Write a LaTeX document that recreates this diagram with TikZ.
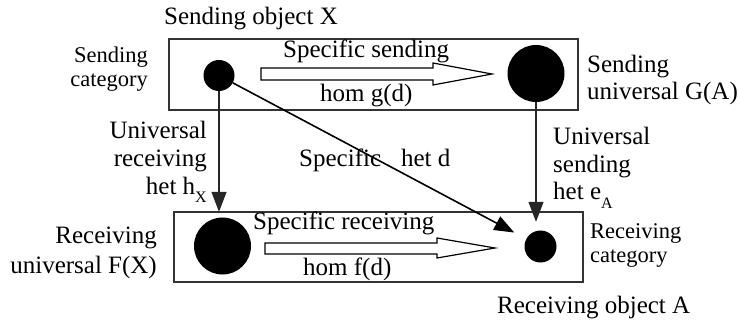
\documentclass[tikz,border=0pt]{standalone}
\usepackage{fontspec}
\setmainfont{Liberation Serif}
\usetikzlibrary{arrows.meta}
\begin{document}
\begin{tikzpicture}[x=1pt,y=-1pt,
  lbl/.style={font=\fontsize{25}{28}\selectfont, inner sep=0pt},
  sml/.style={font=\fontsize{22.5}{24}\selectfont, inner sep=0pt},
  catbox/.style={draw=black!80, line width=1.6pt, inner sep=0pt, anchor=north west, minimum width=409pt},
  dot/.style={circle, fill=black, inner sep=0pt, minimum size=#1},
  het/.style={draw=black!85, line width=1.3pt, -{Triangle[length=20pt,width=15pt]}},
  homarrow/.style={draw=black, line width=1.2pt, fill=white, line join=miter}
]
\useasboundingbox (0,0) rectangle (739,323);
% category boxes
\node[catbox, minimum height=71pt] (sendcat) at (168,38) {};
\node[catbox, minimum height=70pt] (recvcat) at (173,211) {};
% objects
\node[dot=31pt] (tl) at (219,75.5) {};
\node[dot=57pt] (tr) at (536,73.5) {};
\node[dot=57pt] (bl) at (222.5,246) {};
\node[dot=32pt] (br) at (540.5,246.5) {};
% het arrows
\draw[het, shorten >=5.5pt] (tl.south) -- (tl.south |- bl.north);
\draw[het, shorten >=8.5pt] (tr.south) -- (tr.south |- br.north);
\draw[het, draw=black, line width=1.6pt, shorten >=13.5pt] (tl) -- (br);
% hom arrows
\draw[homarrow] (261,68) -- (433,68) -- (433,63) -- (492,74) -- (433,85) -- (433,80) -- (261,80) -- cycle;
\draw[homarrow] (265,243) -- (437,243) -- (437,238) -- (495,248) -- (437,258) -- (437,254) -- (265,254) -- cycle;
% labels (base anchor = baseline of the last line)
\node[lbl, anchor=base west] (sx) at (164,25) {Sending object X};
\node[sml, anchor=base east, align=right] (sc) at (148,87) {Sending\\category};
\node[lbl, anchor=base west] (ss) at (283,58) {Specific sending};
\node[lbl, anchor=base west] (hg) at (320,102) {hom g(d)};
\node[lbl, anchor=base west, align=left, font=\fontsize{25}{27}\selectfont] (su) at (587,100) {Sending\\universal G(A)};
\node[lbl, anchor=base east, align=right] (urh) at (207,195) {Universal\\receiving\\het h\raisebox{-8pt}{\fontsize{16}{16}\selectfont X}};
\node[lbl, anchor=base west] (shd) at (299,167) {Specific\hspace{20pt}het d};
\node[lbl, anchor=base west, align=left, font=\fontsize{25}{27.5}\selectfont] (use) at (553,200) {Universal\\sending\\het e\raisebox{-9pt}{\fontsize{16}{16}\selectfont A}};
\node[lbl, anchor=base east, align=right, font=\fontsize{25}{30}\selectfont] (ru) at (157,273) {Receiving\\universal F(X)};
\node[lbl, anchor=base west] (sr) at (253,230) {Specific receiving};
\node[lbl, anchor=base west] (hf) at (303,275) {hom f(d)};
\node[sml, anchor=base west, align=left] (rc) at (590,262) {Receiving\\category};
\node[lbl, anchor=base west] (ra) at (497,313) {Receiving object A};
\end{tikzpicture}
\end{document}
